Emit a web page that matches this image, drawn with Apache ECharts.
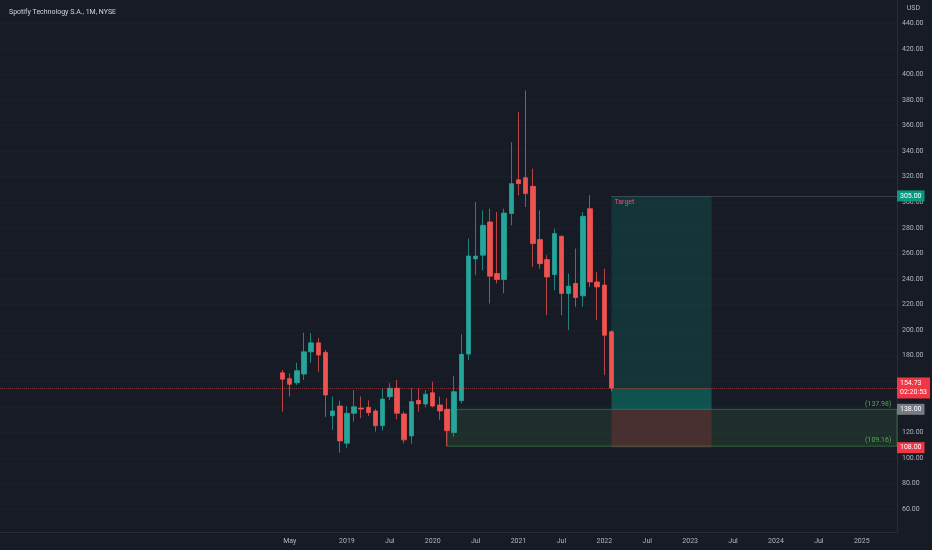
<!DOCTYPE html>
<html>
<head>
<meta charset="utf-8">
<script src="https://cdn.jsdelivr.net/npm/echarts@6/dist/echarts.min.js"></script>
<style>
html,body{margin:0;padding:0;background:#171b26;}
#c{width:932px;height:550px;}
</style>
</head>
<body>
<div id="c"></div>
<script>
// Month index: 0 = Jan 2018. First candle = Apr 2018 (index 3)
const firstMonth = 3;
const opens  = [166.6,162,158.8,165.6,183,190,182.5,133,140.6,111.5,134.9,139,139.6,136.7,125.2,147.9,154.5,134.4,117.2,145,142.2,151,141.4,138,119.8,144.8,181.2,255.7,258.6,284.6,244.3,239.6,291.2,317.7,319.3,312.5,270.8,255.2,243.5,273.4,228.7,236.5,226.8,295,237.7,235.2,198.7];
const closes = [161.5,157.6,168.2,183,190,180.5,149.2,136.7,113.3,134.9,140,138.2,135.4,125.2,146,154.5,134.9,114.1,144,142.2,149.8,140.6,136.7,121.3,151.8,181,258,257.9,282,242.2,239.6,291.6,314.6,314.6,306.8,267.7,252,241.6,275.5,228.7,234.4,225.5,289,237.7,233.8,196,154.73];
const lows   = [136.2,148,157,161,174.5,167.4,132,122,104,107.8,128.4,131,132.8,120.5,121.3,145.3,130.2,111.5,111,136.2,139.6,139.6,129.7,109,116.6,142.7,176.6,243,246.9,220.8,236.5,228.7,282,305.5,296.3,249.5,248,211.7,231,211.7,200,218.2,218.2,233.8,207.8,164.8,152];
const highs  = [168.8,166,174.5,198,197.7,193.7,184.4,148,144.8,140.6,153,148,145,138.3,154.5,158.4,161,136.2,154.5,154.5,153,159.6,147.9,146.6,164,196.9,271.6,300.2,293.75,295,292.4,295,347,370.5,387.5,326.3,293.75,258.6,279.4,274,244.3,263.8,292.4,305.5,245.5,248,200];

const xTickMonths = [4,12,18,24,30,36,42,48,54,60,66,72,78,84];
const xTickLabels = ['May','2019','Jul','2020','Jul','2021','Jul','2022','Jul','2023','Jul','2024','Jul','2025'];
const yTicks = [60,80,100,120,140,160,180,200,220,240,260,280,300,320,340,360,380,400,420,440];

// trade / drawing levels
const lastPrice = 154.73;
const entry = 138;
const target = 305;
const stop = 108;
const rectTop = 137.98;
const rectBottom = 109.16;
const rectStartMonth = 26;   // Mar 2020
const posStartMonth = 49;    // Feb 2022
const posEndMonth = 63;      // Apr 2023

const xMin = -36.52, xMax = 88.93;
const yMin = 42.0, yMax = 458.3;

const candles = opens.map((o, i) => [firstMonth + i, o, closes[i], lows[i], highs[i]]);

const chart = echarts.init(document.getElementById('c'), null, {renderer: 'canvas'});
const axisTxt = '#b2b5be';
const fnt = 'Roboto, "Noto Sans", sans-serif';
const clear = 'rgba(0,0,0,0)';

function boxLabel(text, bg) {
  return {show: true, position: 'end', distance: 0, formatter: text, backgroundColor: bg,
    color: '#ffffff', fontSize: 7, fontFamily: fnt, padding: [2, 3, 1, 3], lineHeight: 8, align: 'left'};
}

chart.setOption({
  backgroundColor: '#171b26',
  animation: false,
  title: {text: 'Spotify Technology S.A., 1M, NYSE', left: 4, top: 4,
    textStyle: {color: '#d1d4dc', fontSize: 7, fontWeight: 'normal', fontFamily: fnt}},
  graphic: [{type: 'text', right: 12, top: 5, style: {text: 'USD', fill: axisTxt, fontSize: 7, fontFamily: fnt}}],
  grid: {left: 0, right: 35, top: 0, bottom: 18},
  xAxis: {
    type: 'value', min: xMin, max: xMax,
    axisLine: {show: true, onZero: false, lineStyle: {color: '#2a2e39'}},
    axisTick: {show: false, customValues: xTickMonths},
    splitLine: {show: false},
    axisLabel: {customValues: xTickMonths, color: axisTxt, fontSize: 7, fontFamily: fnt, margin: 6,
      formatter: v => { const k = xTickMonths.indexOf(Math.round(v)); return k >= 0 ? xTickLabels[k] : ''; }}
  },
  yAxis: {
    type: 'value', position: 'right', min: yMin, max: yMax, scale: true,
    axisLine: {show: true, onZero: false, lineStyle: {color: '#2a2e39'}},
    axisTick: {show: false, customValues: yTicks},
    splitLine: {show: true, lineStyle: {color: 'rgba(42,46,57,0.22)'}},
    axisLabel: {customValues: yTicks, color: axisTxt, fontSize: 7, fontFamily: fnt, margin: 5,
      formatter: v => v.toFixed(2)}
  },
  series: [{
    type: 'candlestick',
    clip: false,
    barWidth: 5,
    encode: {x: 0, y: [1, 2, 3, 4]},
    data: candles,
    itemStyle: {color: '#26a69a', color0: '#ef5350', borderColor: 'rgba(38,166,154,0.75)', borderColor0: 'rgba(239,83,80,0.75)', borderWidth: 1},
    markArea: {
      silent: true,
      data: [
        [{coord: [rectStartMonth, rectTop], itemStyle: {color: 'rgba(76,175,80,0.13)', borderColor: 'rgba(76,175,80,0.45)', borderWidth: 1}, label: {show: false}},
         {coord: [xMax, rectBottom]}],
        [{coord: [posStartMonth, target], itemStyle: {color: 'rgba(8,153,129,0.2)'},
          label: {show: true, position: 'insideTopLeft', formatter: 'Target', color: '#e8506a', fontSize: 7, fontFamily: fnt, distance: 3}},
         {coord: [posEndMonth, lastPrice]}],
        [{coord: [posStartMonth, lastPrice], itemStyle: {color: 'rgba(8,153,129,0.45)'}, label: {show: false}},
         {coord: [posEndMonth, entry]}],
        [{coord: [posStartMonth, entry], itemStyle: {color: 'rgba(242,54,69,0.2)'}, label: {show: false}},
         {coord: [posEndMonth, stop]}]
      ]
    },
    markLine: {
      silent: true, symbol: 'none', animation: false,
      data: [
        [{coord: [posStartMonth, target], lineStyle: {color: 'rgba(120,123,134,0.7)', type: 'dotted', width: 1}, label: boxLabel('305.00', '#089981')},
         {coord: [xMax, target]}],
        [{coord: [xMin, lastPrice], lineStyle: {color: 'rgba(239,83,80,0.45)', type: 'dotted', width: 1},
          label: Object.assign(boxLabel('154.73\n02:20:53', '#f23645'), {lineHeight: 9, padding: [2, 3, 1, 3]})},
         {coord: [xMax, lastPrice]}],
        [{coord: [xMin, entry], lineStyle: {color: clear, width: 1}, label: boxLabel('138.00', '#787b86')},
         {coord: [xMax, entry]}],
        [{coord: [xMin, stop], lineStyle: {color: clear, width: 1}, label: boxLabel('108.00', '#f23645')},
         {coord: [xMax, stop]}],
        [{coord: [rectStartMonth, rectTop], lineStyle: {color: clear, width: 1},
          label: {show: true, position: 'insideEndTop', formatter: '(137.98)', color: '#4caf50', fontSize: 7, fontFamily: fnt, distance: 2}},
         {coord: [xMax - 0.5, rectTop]}],
        [{coord: [rectStartMonth, rectBottom], lineStyle: {color: clear, width: 1},
          label: {show: true, position: 'insideEndTop', formatter: '(109.16)', color: '#4caf50', fontSize: 7, fontFamily: fnt, distance: 2}},
         {coord: [xMax - 0.5, rectBottom]}]
      ]
    }
  }]
});
</script>
</body>
</html>
